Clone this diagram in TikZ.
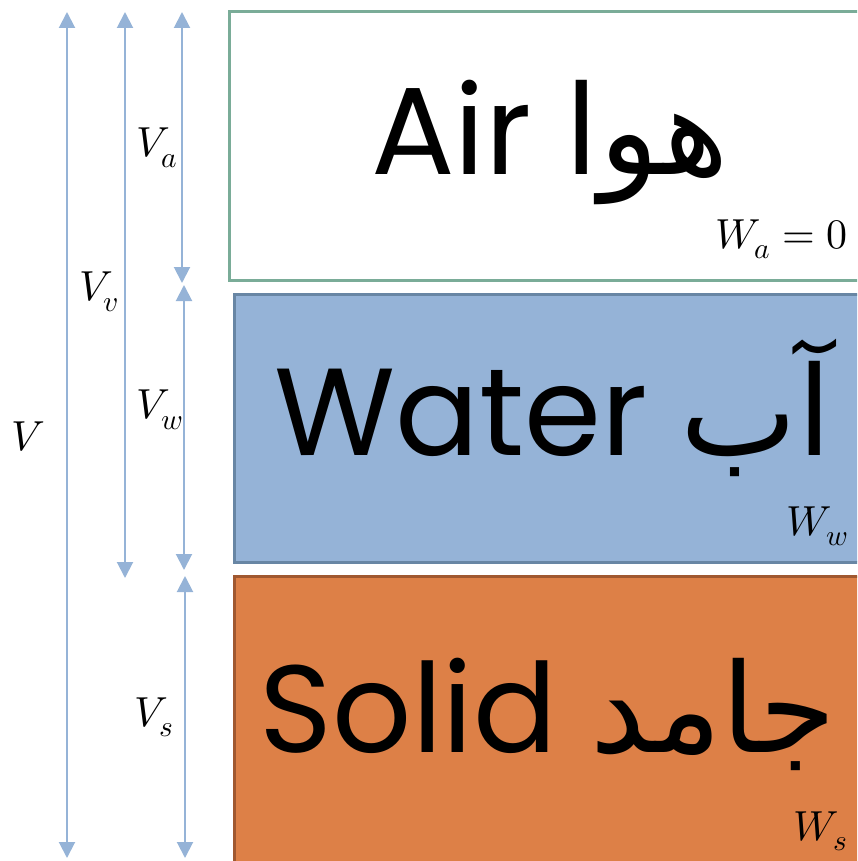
\documentclass[tikz,border=0pt]{standalone}
\usepackage{fontspec}
\usepackage{unicode-math}
\setmainfont{Poppins}
\setmathfont{Latin Modern Math}
\newfontfamily\arabicfont[Script=Arabic]{DejaVu Sans}
\TeXXeTstate=1
\usepackage{tikz}
\usetikzlibrary{arrows.meta}
\definecolor{airline}{RGB}{122,172,152}
\definecolor{waterfill}{RGB}{149,179,215}
\definecolor{waterline}{RGB}{104,134,164}
\definecolor{solidfill}{RGB}{221,128,71}
\definecolor{solidline}{RGB}{160,88,48}
\definecolor{dimline}{RGB}{149,179,215}
\tikzset{
  phase/.style={draw, line width=3pt},
  big/.style={font=\fontsize{124}{126}\selectfont, anchor=base},
  wlab/.style={font=\fontsize{42}{42}\selectfont, anchor=base east, inner sep=0pt},
  vlab/.style={font=\fontsize{42}{42}\selectfont, inner sep=0pt},
  dim/.style={{Triangle[length=16pt,width=16pt]}-{Triangle[length=16pt,width=16pt]},
              draw=dimline, fill=dimline, line width=2pt}
}

\begin{document}
\begin{tikzpicture}[x=1pt,y=-1pt]
  \useasboundingbox (0,0) rectangle (857,861);
  \clip (0,0) rectangle (857,861);
  % phases
  \draw[phase, draw=airline, fill=white] (229,12) rectangle (870,280);
  \draw[phase, draw=waterline, fill=waterfill] (234,294) rectangle (870,562);
  \draw[phase, draw=solidline, fill=solidfill] (234,576) rectangle (870,875);
  \node[big] (air) at (550,175) {Air {\arabicfont\beginR هوا\endR}};
  \node[big] (water) at (553,455) {Water {\arabicfont\beginR آب\endR}};
  \node[big] (solid) at (548,752) {Solid {\arabicfont\beginR جامد\endR}};
  \node[wlab] (wa) at (848,248) {$W_a=0$};
  \node[wlab] (ww) at (848,535) {$W_w$};
  \node[wlab] (ws) at (848,840) {$W_s$};
  % dimension arrows
  \coordinate (vtop) at (67,12);   \coordinate (vbot) at (67,858);
  \coordinate (vvtop) at (125,12); \coordinate (vvbot) at (125,578);
  \coordinate (vatop) at (182,12); \coordinate (vabot) at (182,283);
  \coordinate (vwtop) at (184,285); \coordinate (vwbot) at (184,570);
  \coordinate (vstop) at (185,576); \coordinate (vsbot) at (185,858);
  \draw[dim] (vtop) -- (vbot);
  \draw[dim] (vvtop) -- (vvbot);
  \draw[dim] (vatop) -- (vabot);
  \draw[dim] (vwtop) -- (vwbot);
  \draw[dim] (vstop) -- (vsbot);
  \node[vlab] (v) at (28,437) {$V$};
  \node[vlab] (vv) at (99,292) {$V_v$};
  \node[vlab] (va) at (157,148) {$V_a$};
  \node[vlab] (vw) at (160,410) {$V_w$};
  \node[vlab] (vs) at (154,717) {$V_s$};
\end{tikzpicture}
\end{document}
